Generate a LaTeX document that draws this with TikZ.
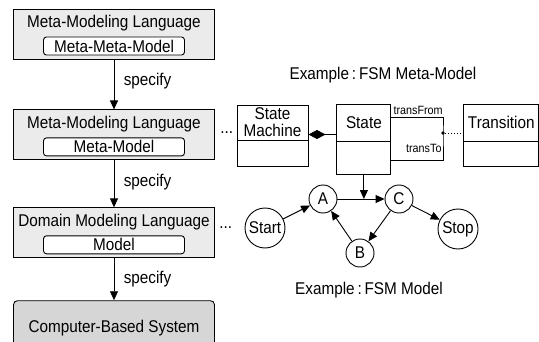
\documentclass[tikz,border=0pt]{standalone}
\usepackage{fontspec}
\setmainfont{Liberation Sans}[FakeStretch=0.9]
\usetikzlibrary{positioning, arrows.meta}

\definecolor{langgray}{gray}{0.92}
\definecolor{sysgray}{gray}{0.84}

\begin{document}
\begin{tikzpicture}[x=1pt, y=1pt, font=\fontsize{17}{17}\selectfont, line width=0.9pt]
				\tikzstyle{langbox} = [rectangle, draw, fill=langgray, minimum width=201pt, minimum height=50pt]
				\tikzstyle{sysbox} = [langbox, fill=sysgray, rounded corners=4pt]
				\tikzstyle{modelbox} = [rectangle, draw, fill=white, rounded corners=3pt, minimum width=141pt, minimum height=18pt, inner sep=0pt]
				\tikzstyle{title} = [inner sep=0pt]
				\tikzstyle{classbox} = [rectangle, draw, align=center, inner sep=0pt]
				\tikzstyle{fsmstate} = [circle, draw, inner sep=0pt, minimum size=28pt]
				\tikzstyle{role} = [font=\fontsize{12}{12}\selectfont, inner sep=1pt]
				\tikzstyle{arrow} = [-{Triangle[length=9pt,width=8pt]}]

				\useasboundingbox (0,0) rectangle (539,341);
				\clip (0,0) rectangle (539,341);

				% modeling levels
				\node [langbox] (lang1) at (114,307) {};
				\node [langbox, below=50pt of lang1] (lang2) {};
				\node [langbox, below=47pt of lang2] (lang3) {};
				\node [sysbox, below=42pt of lang3] (system) {};

				\node [title] (lang1t) at ([yshift=11pt]lang1.center) {Meta-Modeling Language};
				\node [modelbox] (mmm) at ([yshift=-12pt]lang1.center) {Meta-Meta-Model};
				\node [title] (lang2t) at ([yshift=11pt]lang2.center) {Meta-Modeling Language};
				\node [modelbox] (mm) at ([yshift=-12pt]lang2.center) {Meta-Model};
				\node [title] (lang3t) at ([yshift=11pt]lang3.center) {Domain Modeling Language};
				\node [modelbox] (dm) at ([yshift=-12pt]lang3.center) {Model};
				\node [title] (systemt) at ([yshift=-2pt]system.center) {Computer-Based System};

				\draw [arrow] (lang1) -- node [right=6pt, yshift=3pt] (spec1) {specify} (lang2);
				\draw [arrow] (lang2) -- node [right=6pt, yshift=2pt] (spec2) {specify} (lang3);
				\draw [arrow] (lang3) -- node [right=6pt] (spec3) {specify} (system);

				% FSM meta-model
				\node (metatitle) at (383,266) {Example\,:\,FSM Meta-Model};
				\node [classbox, minimum width=71pt, minimum height=35pt] (sm) at (272.5,218.5) {State\\Machine};
				\node [classbox, minimum width=71pt, minimum height=26pt, below=0pt of sm] (smlow) {};
				\node [classbox, minimum width=54pt, minimum height=37pt, right=28pt of sm] (state) {State};
				\node [classbox, minimum width=54pt, minimum height=33pt, below=0pt of state] (statelow) {};
				\node [classbox, minimum width=75pt, minimum height=37pt, right=72pt of state] (trans) {Transition};
				\node [classbox, minimum width=75pt, minimum height=25pt, below=0pt of trans] (translow) {};

				\draw [-{Diamond[length=17pt,width=9pt]}] ([yshift=-12pt]state.west) -- ([yshift=-12pt]sm.east);
				\coordinate (junc) at (443,208);
				\draw ([yshift=5.5pt]state.east) node [role, above right=1pt] (from) {transFrom}
					-| (junc) |- node [role, pos=0.5, above left=7pt and 0pt] (to) {transTo} ([yshift=-2.5pt]statelow.east);
				\node [circle, fill, inner sep=1.3pt] (jdot) at (junc) {};
				\draw [dotted] (jdot) -- (junc -| trans.west);

				\node [title, right=5pt of lang2, yshift=2pt] (dots1) {...};

				% FSM model
				\node [fsmstate] (A) at (323,142) {A};
				\node [fsmstate] (C) at (399,142) {C};
				\node [fsmstate] (B) at (360,88) {B};
				\node [fsmstate, minimum size=40pt] (start) at (265,113) {Start};
				\node [fsmstate, minimum size=40pt] (stop) at (458,112) {Stop};
				\node [title, left=12pt of start] (dots2) {...};

				\draw [arrow] (start) -- (A);
				\draw [arrow] (A) -- (C);
				\draw [arrow] (C) -- (B);
				\draw [arrow] (B) -- (A);
				\draw [arrow] (C) -- (stop);
				\draw [arrow] (statelow) -- (statelow |- A);

				\node (fsmtitle) at (369,51) {Example\,:\,FSM Model};
			\end{tikzpicture}
\end{document}
